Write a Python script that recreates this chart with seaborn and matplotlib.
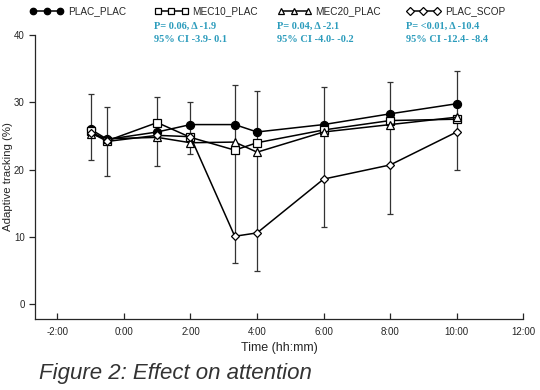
import numpy as np
import pandas as pd
import matplotlib
matplotlib.use('Agg')
import matplotlib.pyplot as plt
import seaborn as sns

# time points in hours relative to dosing
times = [-1, -0.5, 1, 2, 3.33, 4, 6, 8, 10]

plac_plac = [26.0, 24.5, 25.6, 26.7, 26.7, 25.6, 26.7, 28.3, 29.8]
mec10_plac = [25.7, 24.3, 27.0, 24.8, 22.9, 24.0, 25.9, 27.3, 27.5]
mec20_plac = [25.3, 24.6, 24.8, 24.0, 24.1, 22.6, 25.6, 26.7, 27.8]
plac_scop = [25.5, 24.2, 25.1, 24.9, 10.1, 10.6, 18.6, 20.7, 25.6]

# error bar extents (lower / upper)
err_lo = [21.5, 19.1, 20.5, 22.3, 6.1, 5.0, 11.5, 13.4, 19.9]
err_hi = [31.2, 29.3, 30.8, 30.0, 32.6, 31.7, 32.3, 33.0, 34.7]

xticks = [-2, 0, 2, 4, 6, 8, 10, 12]
xtick_labels = ['-2:00', '0:00', '2:00', '4:00', '6:00', '8:00', '10:00', '12:00']
yticks = [0, 10, 20, 30, 40]

series_names = ['PLAC_PLAC', 'MEC10_PLAC', 'MEC20_PLAC', 'PLAC_SCOP']
series_vals = [plac_plac, mec10_plac, mec20_plac, plac_scop]
stats_p = ['P= 0.06, \u0394 -1.9', 'P= 0.04, \u0394 -2.1', 'P= <0.01, \u0394 -10.4']
stats_ci = ['95% CI -3.9- 0.1', '95% CI -4.0- -0.2', '95% CI -12.4- -8.4']

sns.set_style('ticks')
plt.rcParams['font.family'] = ['Liberation Sans', 'DejaVu Sans']

fig = plt.figure(figsize=(5.4, 3.9), dpi=100)
ax = fig.add_axes([0.065, 0.182, 0.904, 0.728])

styles = {
    'PLAC_PLAC': dict(marker='o', markerfacecolor='black', markersize=5.8),
    'MEC10_PLAC': dict(marker='s', markerfacecolor='white', markersize=5.2),
    'MEC20_PLAC': dict(marker='^', markerfacecolor='white', markersize=5.4),
    'PLAC_SCOP': dict(marker='D', markerfacecolor='white', markersize=4.5),
}

# error bars first so markers sit on top
ref = np.array(plac_plac)
ax.errorbar(times, ref, yerr=[ref - np.array(err_lo), np.array(err_hi) - ref],
            fmt='none', ecolor='#333333', elinewidth=0.9, capsize=2, capthick=0.9, zorder=1)

handles = []
for name, vals in zip(series_names, series_vals):
    df = pd.DataFrame({'t': times, 'v': vals})
    sns.lineplot(data=df, x='t', y='v', ax=ax, color='black', linewidth=1.1,
                 markeredgecolor='black', markeredgewidth=0.9, zorder=3,
                 **styles[name])
    handles.append(ax.lines[-1])

ax.set_xlim(-2.67, 12)
ax.set_ylim(-2.2, 40)
ax.set_xticks(xticks)
ax.set_xticklabels(xtick_labels)
ax.set_yticks(yticks)
ax.tick_params(axis='x', direction='in', length=4, labelsize=7, pad=6, width=0.9)
ax.tick_params(axis='y', direction='out', length=4, labelsize=7, width=0.9)
ax.set_xlabel('Time (hh:mm)', fontsize=9, labelpad=3)
ax.set_ylabel('Adaptive tracking (%)', fontsize=8.2)
ax.yaxis.set_label_coords(-0.046, 0.5)
for s in ['top', 'right']:
    ax.spines[s].set_visible(False)
for s in ['left', 'bottom']:
    ax.spines[s].set_linewidth(0.9)

# one legend per series so each sits at its own column
leg_x = [0.045, 0.275, 0.503, 0.742]
for i, (h, name) in enumerate(zip(handles, series_names)):
    fig.legend([h], [name], loc='upper left', bbox_to_anchor=(leg_x[i], 1.0),
               frameon=False, numpoints=3, handlelength=3.3, handletextpad=0.5,
               fontsize=7.2, markerscale=0.8, borderaxespad=0.2)

teal = '#2c9cbc'
txt_x = [0.285, 0.513, 0.752]
for x, p, ci in zip(txt_x, stats_p, stats_ci):
    fig.text(x, 0.922, p, fontsize=7.5, color=teal, fontweight='bold',
             family=['Liberation Serif', 'DejaVu Serif'], va='bottom')
    fig.text(x, 0.887, ci, fontsize=7.5, color=teal, fontweight='bold',
             family=['Liberation Serif', 'DejaVu Serif'], va='bottom')

fig.text(0.072, 0.043, 'Figure 2: Effect on attention', fontsize=16, style='italic',
         color='#333333', va='center')

fig.savefig('out.png', dpi=100)
